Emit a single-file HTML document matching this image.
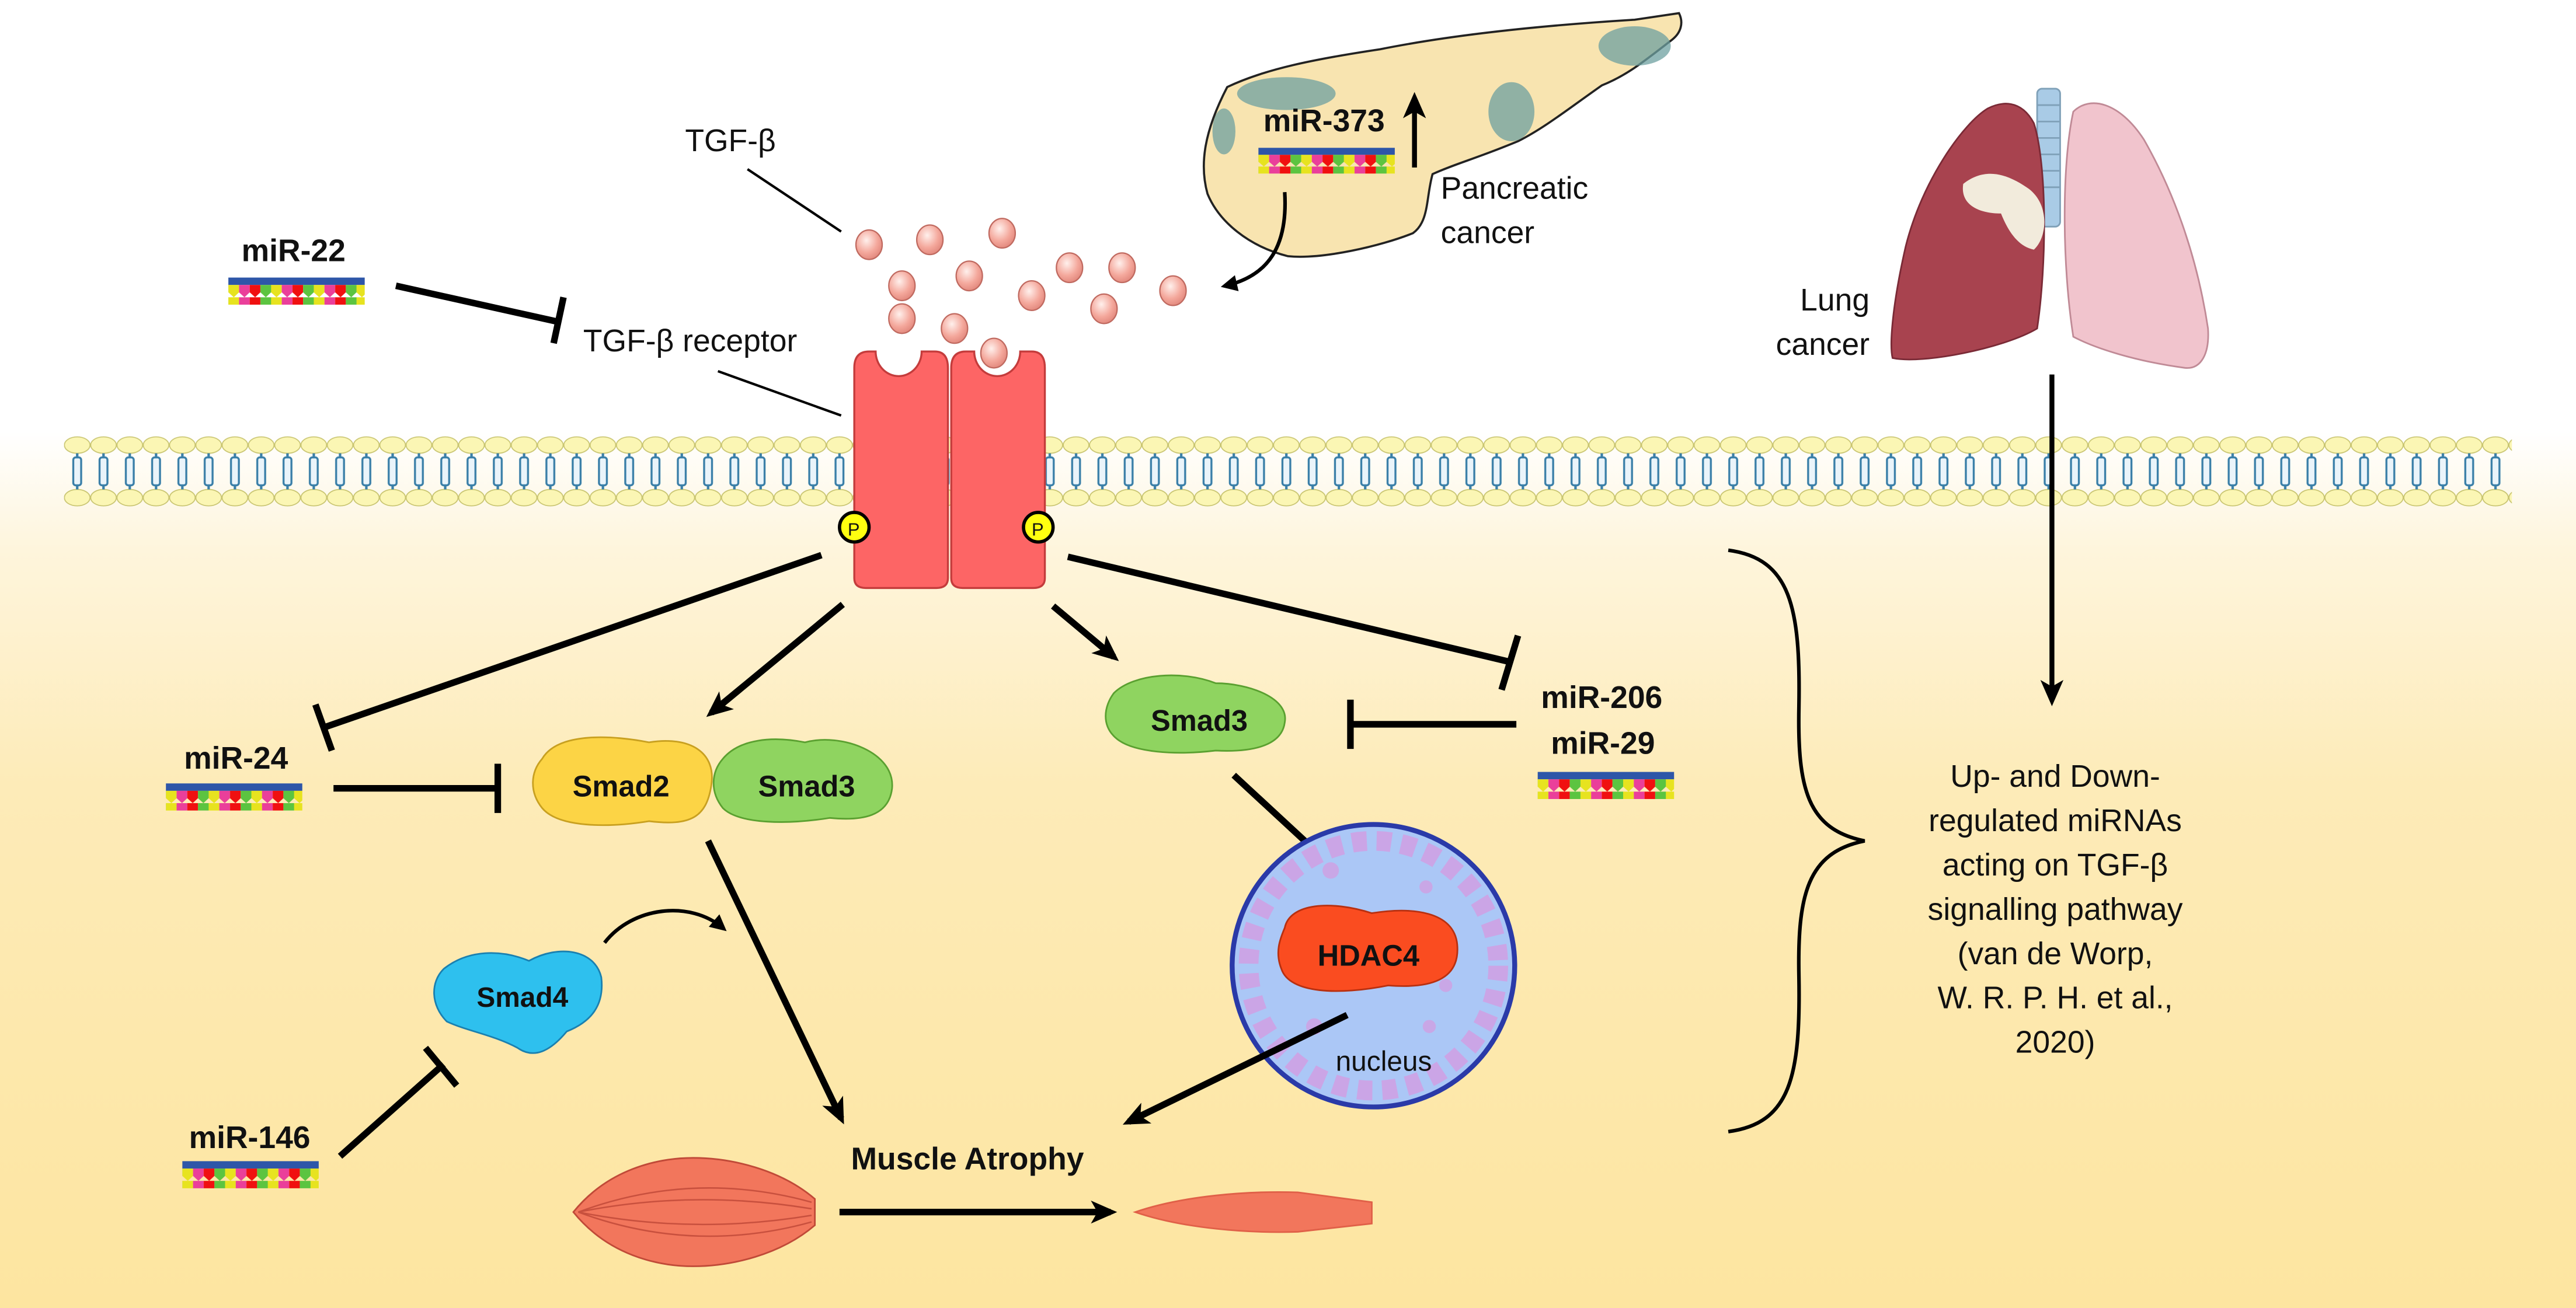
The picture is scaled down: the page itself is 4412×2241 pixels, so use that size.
<!DOCTYPE html>
<html><head><meta charset="utf-8"><style>
html,body{margin:0;padding:0;background:#fff}
svg{display:block}
text{font-family:"Liberation Sans","DejaVu Sans",sans-serif;fill:#111}
.b{font-weight:bold}
</style></head><body>
<svg width="4412" height="2241" viewBox="0 0 1568 796.4" preserveAspectRatio="none" xmlns="http://www.w3.org/2000/svg">
<defs>
<linearGradient id="bg" x1="0" y1="0" x2="0" y2="1">
<stop offset="0" stop-color="#fff"/>
<stop offset="0.33" stop-color="#fff"/>
<stop offset="0.42" stop-color="#fef5dc"/>
<stop offset="0.6" stop-color="#fdebb8"/>
<stop offset="1" stop-color="#fde5a0"/>
</linearGradient>
<pattern id="mem" x="39" y="265" width="16" height="44" patternUnits="userSpaceOnUse">
<ellipse cx="8" cy="6" rx="7.8" ry="5" fill="#fbf6b4" stroke="#c8c470" stroke-width="0.6"/>
<ellipse cx="8" cy="38" rx="7.8" ry="5" fill="#fbf6b4" stroke="#c8c470" stroke-width="0.6"/>
<rect x="5.6" y="13.5" width="4.8" height="17" rx="1.5" fill="#eaf4fa" stroke="#3a7fa8" stroke-width="1.2"/>
<line x1="8" y1="11" x2="8" y2="13.5" stroke="#3a7fa8" stroke-width="1.5"/>
<line x1="8" y1="30.5" x2="8" y2="33" stroke="#3a7fa8" stroke-width="1.5"/>
</pattern>
<pattern id="teeth" x="0" y="0" width="26" height="12" patternUnits="userSpaceOnUse">
<path d="M0,0h6.5v9l-3.2,3l-3.3,-3z" fill="#e7e31f"/>
<path d="M6.5,0h6.5v9l-3.2,3l-3.3,-3z" fill="#ea3f9a"/>
<path d="M13,0h6.5v9l-3.2,3l-3.3,-3z" fill="#f01010"/>
<path d="M19.5,0h6.5v9l-3.2,3l-3.3,-3z" fill="#5cc440"/>
</pattern>
<g id="mir"><rect x="0" y="0" width="83" height="4.5" fill="#2e56a8"/><rect x="0" y="4.5" width="83" height="12" fill="url(#teeth)"/></g>
<marker id="ar" markerWidth="10" markerHeight="10" refX="7" refY="5" orient="auto" markerUnits="userSpaceOnUse" viewBox="0 0 10 10"><path d="M0,0L10,5L0,10z" fill="#000"/></marker>
<marker id="ah" markerWidth="16" markerHeight="16" refX="12" refY="8" orient="auto" markerUnits="userSpaceOnUse" viewBox="0 0 16 16"><path d="M0,1L16,8L0,15L4,8z" fill="#000"/></marker>
<radialGradient id="ball" cx="0.4" cy="0.35" r="0.7"><stop offset="0" stop-color="#fff0ec"/><stop offset="0.6" stop-color="#f4a89c"/><stop offset="1" stop-color="#e0857a"/></radialGradient>
</defs>
<rect width="1568" height="796.4" fill="url(#bg)"/>
<rect x="39" y="265" width="1490" height="44" fill="url(#mem)"/>

<!-- pancreas -->
<path d="M747,53 C770,42 800,36 840,30 C880,22 930,16 995,12 L1022,8 C1025,14 1023,20 1018,24 C1000,38 990,46 975,52 C955,66 940,78 924,86 C900,96 885,100 872,106 C868,120 870,135 860,142 C840,150 805,158 784,156 C760,150 742,135 735,118 C730,100 733,80 747,53z" fill="#f8e4b0" stroke="#222" stroke-width="1.3"/>
<g fill="#6ea0a0" opacity="0.75">
<ellipse cx="783" cy="57" rx="30" ry="10"/><ellipse cx="920" cy="68" rx="14" ry="18"/><ellipse cx="995" cy="28" rx="22" ry="12"/><ellipse cx="745" cy="80" rx="7" ry="14"/></g>
<text x="769" y="80" font-size="19" class="b">miR-373</text>
<use href="#mir" transform="translate(766,90) scale(1,0.95)"/>
<line x1="861" y1="102" x2="861" y2="60" stroke="#000" stroke-width="3" marker-end="url(#ah)"/>
<text x="877" y="121" font-size="19">Pancreatic</text>
<text x="877" y="148" font-size="19">cancer</text>
<path d="M782,117 C784,150 772,168 746,174" fill="none" stroke="#000" stroke-width="2.2" marker-end="url(#ar)"/>

<!-- lungs -->
<rect x="1240" y="54" width="14" height="84" rx="3" fill="#a9cbe6" stroke="#7fa0b8"/>
<g stroke="#7fa0b8" stroke-width="1"><line x1="1240" y1="64" x2="1254" y2="64"/><line x1="1240" y1="74" x2="1254" y2="74"/><line x1="1240" y1="84" x2="1254" y2="84"/><line x1="1240" y1="94" x2="1254" y2="94"/><line x1="1240" y1="104" x2="1254" y2="104"/><line x1="1240" y1="114" x2="1254" y2="114"/></g>
<path d="M1210,66 C1195,75 1170,110 1160,150 C1152,185 1150,210 1152,218 C1170,222 1220,212 1240,200 C1246,160 1246,100 1238,75 C1230,60 1218,62 1210,66z" fill="#a8434f" stroke="#7a2a36"/>
<path d="M1262,68 C1272,58 1290,62 1305,85 C1325,120 1338,160 1344,200 C1345,215 1340,225 1330,224 C1300,220 1275,212 1262,205 C1255,160 1255,100 1262,68z" fill="#f1c4cd" stroke="#c08a96"/>
<path d="M1195,112 C1210,100 1225,108 1235,115 C1248,125 1246,145 1238,152 C1228,150 1222,140 1218,130 C1205,130 1193,125 1195,112z" fill="#f2ebdc"/>
<text x="1138" y="189" font-size="19" text-anchor="end">Lung</text>
<text x="1138" y="216" font-size="19" text-anchor="end">cancer</text>
<line x1="1249" y1="228" x2="1249" y2="426" stroke="#000" stroke-width="3" marker-end="url(#ah)"/>

<!-- TGF-beta -->
<text x="417" y="92" font-size="19">TGF-β</text>
<line x1="455" y1="103" x2="512" y2="141" stroke="#000" stroke-width="1.5"/>
<g fill="url(#ball)" stroke="#c06a60" stroke-width="0.8">
<ellipse cx="529" cy="149" rx="8" ry="9"/><ellipse cx="566" cy="146" rx="8" ry="9"/><ellipse cx="549" cy="174" rx="8" ry="9"/><ellipse cx="590" cy="168" rx="8" ry="9"/><ellipse cx="610" cy="142" rx="8" ry="9"/><ellipse cx="628" cy="180" rx="8" ry="9"/><ellipse cx="651" cy="163" rx="8" ry="9"/><ellipse cx="683" cy="163" rx="8" ry="9"/><ellipse cx="672" cy="188" rx="8" ry="9"/><ellipse cx="714" cy="177" rx="8" ry="9"/><ellipse cx="549" cy="194" rx="8" ry="9"/><ellipse cx="581" cy="200" rx="8" ry="9"/><ellipse cx="605" cy="215" rx="8" ry="9"/></g>

<text x="147" y="159" font-size="19" class="b">miR-22</text>
<use href="#mir" transform="translate(139,169)"/>
<line x1="241" y1="174" x2="340" y2="196" stroke="#000" stroke-width="4"/>
<line x1="343" y1="181" x2="337" y2="209" stroke="#000" stroke-width="4"/>
<text x="355" y="214" font-size="19">TGF-β receptor</text>
<line x1="437" y1="226" x2="512" y2="253" stroke="#000" stroke-width="1.5"/>

<!-- receptor -->
<path d="M520,224 Q520,214 529,214 L533,214 A14,15 0 0 0 561,214 L569,214 Q577,214 577,224 L577,352 Q577,358 570,358 L527,358 Q520,358 520,352z" fill="#fd6565" stroke="#c43c3c" stroke-width="1.2"/>
<path d="M579,224 Q579,214 588,214 L593,214 A14,15 0 0 0 621,214 L628,214 Q636,214 636,224 L636,352 Q636,358 629,358 L586,358 Q579,358 579,352z" fill="#fd6565" stroke="#c43c3c" stroke-width="1.2"/>
<g stroke="#000" stroke-width="2" fill="#ffff10"><circle cx="520" cy="321" r="9"/><circle cx="632" cy="321" r="9"/></g>
<text x="516" y="326" font-size="11">P</text><text x="628" y="326" font-size="11">P</text>

<!-- receptor connectors -->
<line x1="500" y1="338" x2="197" y2="443" stroke="#000" stroke-width="4"/>
<line x1="192" y1="429" x2="202" y2="457" stroke="#000" stroke-width="4"/>
<line x1="513" y1="368" x2="433" y2="434" stroke="#000" stroke-width="4" marker-end="url(#ah)"/>
<line x1="641" y1="369" x2="678" y2="400" stroke="#000" stroke-width="4" marker-end="url(#ah)"/>
<line x1="650" y1="339" x2="919" y2="403" stroke="#000" stroke-width="4"/>
<line x1="924" y1="387" x2="914" y2="420" stroke="#000" stroke-width="4"/>

<!-- miR-24 -->
<text x="112" y="468" font-size="19" class="b">miR-24</text>
<use href="#mir" transform="translate(101,477)"/>
<line x1="203" y1="480" x2="303" y2="480" stroke="#000" stroke-width="4"/>
<line x1="303" y1="465" x2="303" y2="495" stroke="#000" stroke-width="4"/>

<!-- Smad2/3 -->
<path d="M330,462 C340,445 375,448 395,452 C420,448 436,458 433,478 C430,498 420,503 395,500 C370,504 340,504 330,492 C322,482 323,470 330,462z" fill="#fcd445" stroke="#c8a020"/>
<path d="M440,462 C450,450 470,448 490,452 C512,446 545,458 543,480 C541,497 525,500 505,498 C480,502 450,502 440,492 C432,482 433,470 440,462z" fill="#8fd460" stroke="#5aa030"/>
<text x="378" y="485" font-size="18" class="b" text-anchor="middle">Smad2</text>
<text x="491" y="485" font-size="18" class="b" text-anchor="middle">Smad3</text>

<!-- Smad3 right -->
<path d="M678,422 C690,410 720,408 740,416 C760,416 785,425 782,440 C780,455 760,458 740,457 C715,460 690,458 680,450 C670,442 672,430 678,422z" fill="#8fd460" stroke="#5aa030"/>
<text x="730" y="445" font-size="18" class="b" text-anchor="middle">Smad3</text>

<text x="938" y="431" font-size="19" class="b">miR-206</text>
<text x="944" y="459" font-size="19" class="b">miR-29</text>
<use href="#mir" transform="translate(936,470)"/>
<line x1="923" y1="441" x2="822" y2="441" stroke="#000" stroke-width="4"/>
<line x1="822" y1="426" x2="822" y2="456" stroke="#000" stroke-width="4"/>

<line x1="751" y1="472" x2="818" y2="534" stroke="#000" stroke-width="4" marker-end="url(#ah)"/>

<!-- nucleus -->
<circle cx="836" cy="588" r="86" fill="#abc7f6" stroke="#2a3aa8" stroke-width="3"/>
<circle cx="836" cy="588" r="76" fill="none" stroke="#d69ae0" stroke-width="12" stroke-dasharray="9 6" opacity="0.75"/>
<g fill="#d69ae0" opacity="0.7"><circle cx="810" cy="530" r="5"/><circle cx="868" cy="540" r="4"/><circle cx="800" cy="625" r="5"/><circle cx="870" cy="625" r="4"/><circle cx="880" cy="600" r="4"/></g>
<path d="M782,565 C785,550 810,548 835,556 C860,552 885,555 887,575 C889,597 870,602 845,600 C815,606 785,605 780,590 C776,580 779,572 782,565z" fill="#fa4c20" stroke="#b83010"/>
<text x="833" y="588" font-size="18" class="b" text-anchor="middle">HDAC4</text>
<text x="813" y="652" font-size="17">nucleus</text>
<line x1="820" y1="618" x2="687" y2="683" stroke="#000" stroke-width="4" marker-end="url(#ah)"/>
<line x1="431" y1="512" x2="512" y2="681" stroke="#000" stroke-width="4" marker-end="url(#ah)"/>

<!-- Smad4 -->
<path d="M270,590 C285,578 305,578 322,585 C340,575 362,578 366,595 C368,612 360,622 345,628 C335,640 325,645 315,638 C300,630 285,628 272,622 C262,612 262,598 270,590z" fill="#2ec0ee" stroke="#1a80b0"/>
<text x="318" y="613" font-size="17" class="b" text-anchor="middle">Smad4</text>
<path d="M368,574 C385,552 420,548 440,565" fill="none" stroke="#000" stroke-width="2.2" marker-end="url(#ar)"/>

<text x="115" y="699" font-size="19" class="b">miR-146</text>
<use href="#mir" transform="translate(111,707)"/>
<line x1="207" y1="704" x2="270" y2="648" stroke="#000" stroke-width="4"/>
<line x1="259" y1="638" x2="278" y2="661" stroke="#000" stroke-width="4"/>

<text x="518" y="712" font-size="19" class="b">Muscle Atrophy</text>
<path d="M349,738 C370,712 400,705 422,705 C445,705 475,712 496,730 L496,746 C475,764 445,771 422,771 C400,771 370,764 349,738z" fill="#f2765c" stroke="#c04a38"/>
<g stroke="#c8503e" stroke-width="0.9" fill="none"><path d="M352,738 Q422,712 494,732"/><path d="M352,738 Q422,764 494,744"/><path d="M352,738 Q422,724 494,736"/><path d="M352,738 Q422,752 494,740"/></g>
<path d="M691,738 C720,728 760,725 790,726 L835,732 L835,745 L790,750 C760,751 720,748 691,738z" fill="#f2765c" stroke="#e06048"/>
<line x1="511" y1="738" x2="676" y2="738" stroke="#000" stroke-width="4" marker-end="url(#ah)"/>

<!-- brace -->
<path d="M1052,335 C1090,340 1096,370 1095,430 C1094,480 1100,505 1135,512 C1100,519 1094,545 1095,595 C1096,655 1090,684 1052,689" fill="none" stroke="#000" stroke-width="2.2"/>
<g font-size="19" text-anchor="middle">
<text x="1251" y="479">Up- and Down-</text>
<text x="1251" y="506">regulated miRNAs</text>
<text x="1251" y="533">acting on TGF-β</text>
<text x="1251" y="560">signalling pathway</text>
<text x="1251" y="587">(van de Worp,</text>
<text x="1251" y="614">W. R. P. H. et al.,</text>
<text x="1251" y="641">2020)</text>
</g>
</svg>
</body></html>
